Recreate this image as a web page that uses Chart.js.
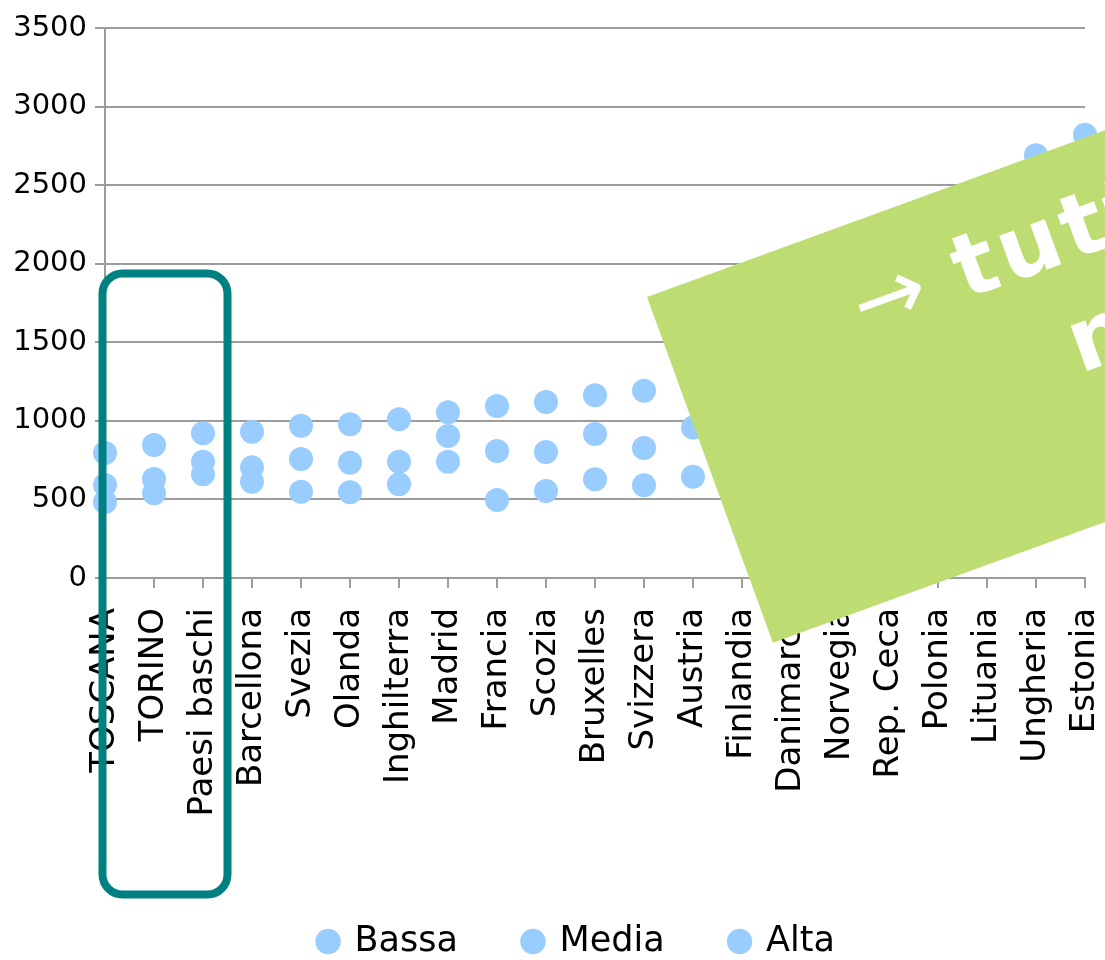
<!DOCTYPE html>
<html>
<head>
<meta charset="utf-8">
<script src="https://cdn.jsdelivr.net/npm/chart.js@4"></script>
<style>
  html, body { margin: 0; padding: 0; background: #fff; }
  canvas { display: block; }
</style>
</head>
<body>
<canvas id="chart" width="1105" height="960"></canvas>
<script>
// categories along the x axis
const regions = ['TOSCANA', 'TORINO', 'Paesi baschi', 'Barcellona', 'Svezia', 'Olanda',
  'Inghilterra', 'Madrid', 'Francia', 'Scozia', 'Bruxelles', 'Svizzera', 'Austria',
  'Finlandia', 'Danimarca', 'Norvegia', 'Rep. Ceca', 'Polonia', 'Lituania', 'Ungheria', 'Estonia'];

const bassa = [484, 539, 660, 613, 549, 545, 596, 740, 496, 554, 628, 590, 645,
  700, 750, 800, 850, 900, 950, 1000, 1050];
const media = [592, 630, 740, 704, 757, 734, 740, 904, 808, 802, 916, 827, 957,
  1000, 1100, 1150, 1300, 1400, 1500, 1700, 1800];
const alta = [795, 846, 921, 931, 969, 978, 1010, 1054, 1095, 1120, 1163, 1192, 1250,
  1300, 1400, 1500, 1700, 1900, 2200, 2690, 2820];

const yTicks = [0, 500, 1000, 1500, 2000, 2500, 3000, 3500];

const dotColor = '#99ccff';
const gridColor = '#9c9c9c';

Chart.defaults.font.family = '"DejaVu Sans", sans-serif';
Chart.defaults.color = '#000';

function series(label, data) {
  return {
    label: label,
    data: data,
    showLine: false,
    clip: false,
    backgroundColor: dotColor,
    borderColor: dotColor,
    pointBackgroundColor: dotColor,
    pointBorderWidth: 0,
    pointRadius: 12,
    pointHoverRadius: 12
  };
}

// frame around the first three groups and the rotated green note
const overlays = {
  id: 'overlays',
  afterLayout(chart) {
    // nudge the legend a little left of the plot centre
    chart.legend.left -= 18;
    chart.legend.right -= 18;
  },
  afterDraw(chart) {
    const ctx = chart.ctx;
    ctx.save();
    ctx.strokeStyle = '#008080';
    ctx.lineWidth = 8;
    ctx.beginPath();
    ctx.roundRect(102.5, 273.5, 125, 621, 20);
    ctx.stroke();

    ctx.translate(647, 297);
    ctx.rotate(-20 * Math.PI / 180);
    ctx.fillStyle = '#bddc71';
    ctx.fillRect(0, 0, 900, 368);
    ctx.fillStyle = '#fff';
    ctx.textBaseline = 'alphabetic';
    ctx.font = '88px "DejaVu Sans"';
    ctx.fillText('→', 191, 111);
    ctx.font = 'bold 88px "DejaVu Sans"';
    ctx.letterSpacing = '5px';
    ctx.fillText('tutti gli altri', 298, 111);
    ctx.fillText('ne spendono di più', 381, 220);
    ctx.restore();
  }
};

new Chart(document.getElementById('chart'), {
  type: 'line',
  data: {
    labels: regions,
    datasets: [series('Bassa', bassa), series('Media', media), series('Alta', alta)]
  },
  options: {
    responsive: false,
    animation: false,
    layout: { padding: { left: 15, right: 20, top: 28, bottom: -9 } },
    plugins: {
      tooltip: { enabled: false },
      legend: {
        position: 'bottom',
        fullSize: false,
        labels: {
          usePointStyle: true,
          boxWidth: 18,
          boxHeight: 18,
          padding: 66,
          font: { size: 35 }
        }
      }
    },
    scales: {
      x: {
        offset: false,
        afterFit(scale) {
          scale.height = 280;
          scale.paddingLeft = 0;
          scale.paddingRight = 0;
        },
        grid: {
          drawOnChartArea: false,
          drawTicks: true,
          tickLength: 10,
          color: gridColor,
          lineWidth: 2
        },
        border: { display: true, color: gridColor, width: 2 },
        ticks: {
          autoSkip: false,
          minRotation: 90,
          maxRotation: 90,
          padding: 20,
          font: { size: 34 }
        }
      },
      y: {
        min: yTicks[0],
        max: yTicks[yTicks.length - 1],
        afterFit(scale) { scale.width = 90; },
        afterBuildTicks(scale) { scale.ticks = yTicks.map(v => ({ value: v })); },
        grid: { color: gridColor, lineWidth: 2, tickLength: 10 },
        border: { display: true, color: gridColor, width: 2 },
        ticks: {
          padding: 8,
          font: { size: 29 },
          callback: v => String(v)
        }
      }
    }
  },
  plugins: [overlays]
});
</script>
</body>
</html>
